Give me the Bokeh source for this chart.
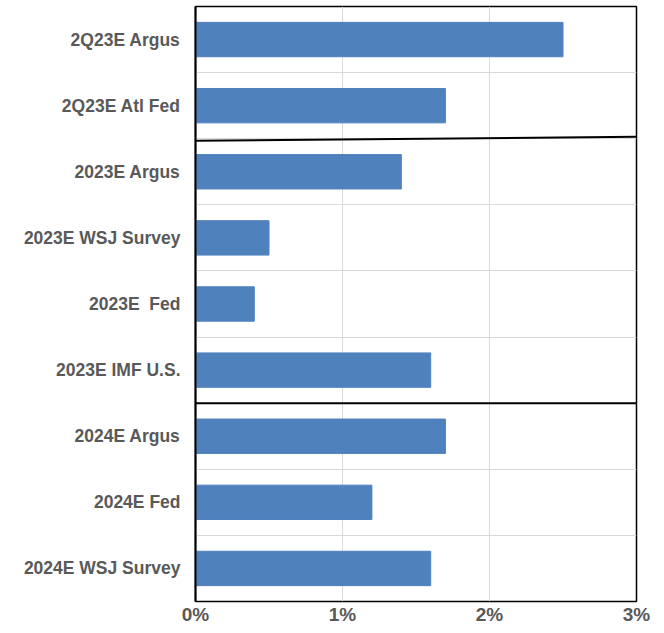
from bokeh.plotting import figure
from bokeh.models import FactorRange, Range1d, FixedTicker, PrintfTickFormatter, ColumnDataSource
from bokeh.embed import file_html
from bokeh.resources import INLINE

categories = ["2Q23E Argus", "2Q23E Atl Fed", "2023E Argus", "2023E WSJ Survey",
              "2023E\u00a0 Fed", "2023E IMF U.S.", "2024E Argus", "2024E Fed", "2024E WSJ Survey"]
values = [2.5, 1.7, 1.4, 0.5, 0.4, 1.6, 1.7, 1.2, 1.6]
x_ticks = [0, 1, 2, 3]
group_breaks = [2, 6]  # separators after these many rows from top

factors = list(reversed(categories))
n = len(categories)

p = figure(y_range=FactorRange(factors=factors, range_padding=0),
           x_range=Range1d(0, 3),
           frame_width=441, frame_height=595,
           output_backend="svg", toolbar_location=None,
           min_border_left=195, min_border_right=20, min_border_top=6, min_border_bottom=0)

src = ColumnDataSource(dict(cat=categories, val=values))
p.hbar(y="cat", right="val", left=0, height=0.52, source=src,
       fill_color="#4f81bd", line_color="#4f81bd", line_width=1)

# group separator lines (slight tilt on first as in reference)
for b in group_breaks:
    yb = n - b
    tilt = 0.03 if b == 2 else 0.0
    p.segment(x0=[0], x1=[3], y0=[yb - tilt], y1=[yb + tilt], line_color="black", line_width=2)

p.xgrid.ticker = FixedTicker(ticks=x_ticks)
p.xgrid.grid_line_color = "#d9d9d9"
p.xgrid.grid_line_width = 1
p.ygrid.ticker = FixedTicker(ticks=list(range(1, n)))
p.ygrid.grid_line_color = "#d9d9d9"
p.ygrid.grid_line_width = 1

p.outline_line_color = "black"
p.outline_line_width = 1.5

p.xaxis.ticker = FixedTicker(ticks=x_ticks)
p.xaxis.formatter = PrintfTickFormatter(format="%d%%")
p.xaxis.axis_line_color = None
p.xaxis.major_tick_line_color = None
p.xaxis.minor_tick_line_color = None
p.xaxis.major_tick_out = 0
p.xaxis.major_label_text_font = "Liberation Sans"
p.xaxis.major_label_text_font_style = "bold"
p.xaxis.major_label_text_font_size = "19px"
p.xaxis.major_label_text_color = "#595959"
p.xaxis.major_label_standoff = 2

p.yaxis.axis_line_color = "black"
p.yaxis.axis_line_width = 2
p.yaxis.major_tick_line_color = None
p.yaxis.minor_tick_line_color = None
p.yaxis.major_tick_out = 0
p.yaxis.major_label_text_font = "Liberation Sans"
p.yaxis.major_label_text_font_style = "bold"
p.yaxis.major_label_text_font_size = "17.5px"
p.yaxis.major_label_text_color = "#595959"
p.yaxis.major_label_standoff = 15

open("out.html", "w").write(file_html(p, INLINE))
